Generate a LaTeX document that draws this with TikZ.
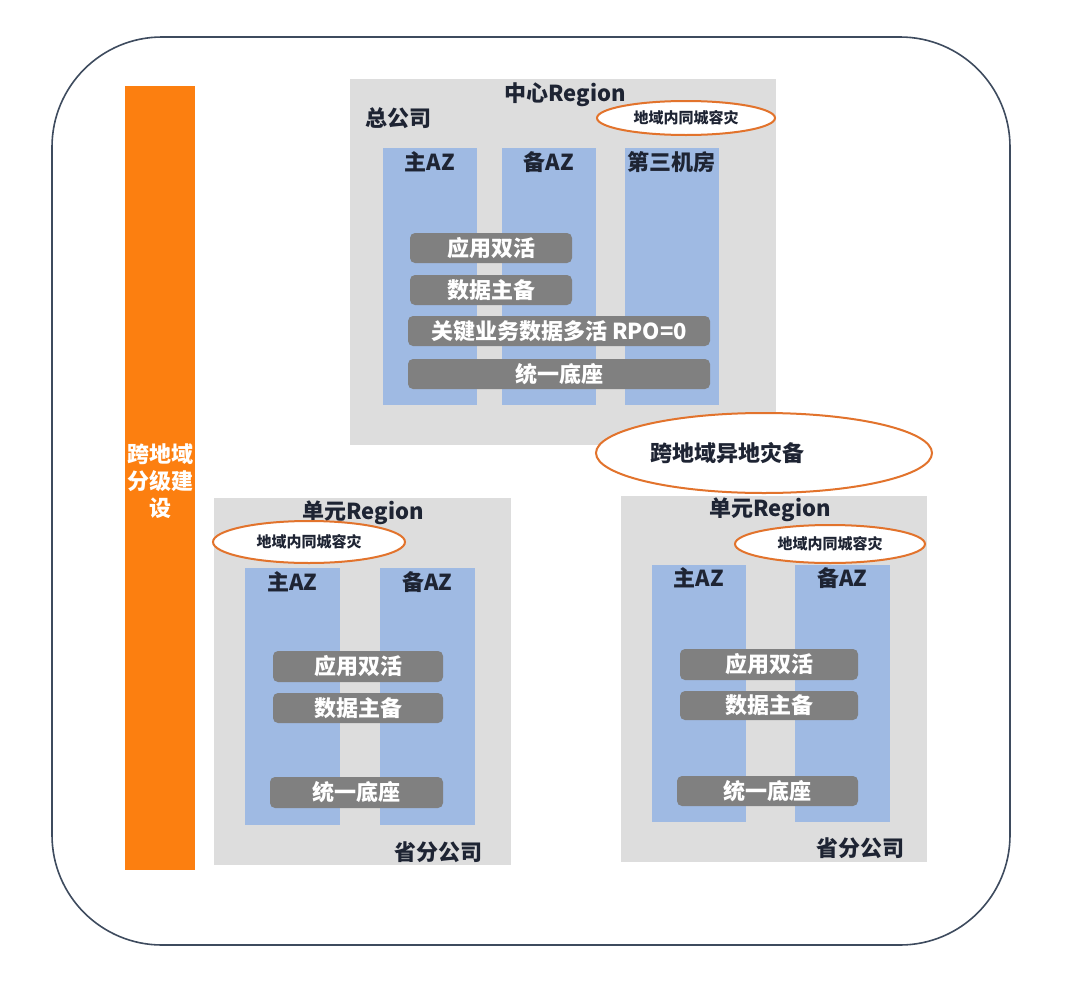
\documentclass[tikz,border=0pt]{standalone}
\usepackage{fontspec}
\setmainfont{Noto Sans CJK SC}
\usetikzlibrary{shapes.geometric}
\definecolor{frame}{HTML}{3E4B5E}
\definecolor{reg}{HTML}{DDDDDD}
\definecolor{az}{HTML}{9FBAE3}
\definecolor{bar}{HTML}{808080}
\definecolor{orng}{HTML}{FC7F10}
\definecolor{ring}{HTML}{E2732C}
\definecolor{ink}{HTML}{1E2433}

\begin{document}
\begin{tikzpicture}[x=1pt, y=-1pt,
		region/.style={fill=reg, draw=none, inner sep=0pt},
		azcol/.style={fill=az, draw=none, minimum width=94, minimum height=257, inner sep=0pt},
		azlabel/.style={font=\fontsize{22}{24}\selectfont\bfseries, text=ink},
		bar/.style={fill=bar, rounded corners=5pt, text=white, font=\fontsize{22}{24}\selectfont\bfseries, inner sep=0pt},
		tag/.style={ellipse, draw=ring, line width=2pt, fill=white, inner sep=0pt},
		title/.style={font=\fontsize{22}{24}\selectfont\bfseries, text=ink}]

			\useasboundingbox (0,0) rectangle (1080,983);
			\fill[white] (0,0) rectangle (1080,983);

			\draw[frame, line width=1.6pt, rounded corners=110pt] (52,37) rectangle (1010,945);

			% left banner
			\node[fill=orng, minimum width=70, minimum height=784, inner sep=0pt] (banner) at (160,478) {};
			\node[text=white, align=center, font=\fontsize{22}{27}\selectfont\bfseries] (bannertxt) at (160,481) {跨地域\\分级建\\设};

			% central region
			\node[region, minimum width=426, minimum height=366] (central) at (563,262) {};
			\node[title] (centralname) at (565,95) {中心Region};
			\node[title] (hq) at (398,118) {总公司};
			\node[tag, minimum width=178, minimum height=34] (centraltag) at (686,118) {};
			\node[font=\fontsize{15}{16}\selectfont\bfseries, text=ink] at (centraltag) {地域内同城容灾};

			\node[azcol] (caz1) at (430,276.5) {};
			\node[azcol] (caz2) at (549,276.5) {};
			\node[azcol] (caz3) at (671.5,276.5) {};
			\node[azlabel] at (430,162) {主AZ};
			\node[azlabel] at (549,162) {备AZ};
			\node[azlabel] at (671.5,162) {第三机房};

			\node[bar, minimum width=162, minimum height=30] (capp) at (491,248) {应用双活};
			\node[bar, minimum width=162, minimum height=30] (cdata) at (491,290) {数据主备};
			\node[bar, minimum width=302, minimum height=30] (ckey) at (559,331) {关键业务数据多活 RPO=0};
			\node[bar, minimum width=302, minimum height=30] (cbase) at (559,374) {统一底座};

			% cross-region disaster recovery
			\node[tag, minimum width=336, minimum height=80] (cross) at (764,453) {};
			\node[title] (crosstxt) at (727,453) {跨地域异地灾备};

			% left unit region
			\node[region, minimum width=297, minimum height=367] (leftunit) at (362.5,681.5) {};
			\node[title] (leftname) at (363,513) {单元Region};
			\node[tag, minimum width=192, minimum height=42] (lefttag) at (309,542) {};
			\node[font=\fontsize{15}{16}\selectfont\bfseries, text=ink] at (lefttag) {地域内同城容灾};

			\node[azcol, minimum width=95] (laz1) at (292.5,696.5) {};
			\node[azcol, minimum width=95] (laz2) at (427.5,696.5) {};
			\node[azlabel] at (292.5,582) {主AZ};
			\node[azlabel] at (427.5,582) {备AZ};

			\node[bar, minimum width=170, minimum height=31] (lapp) at (358,666.5) {应用双活};
			\node[bar, minimum width=170, minimum height=30] (ldata) at (358,708) {数据主备};
			\node[bar, minimum width=173, minimum height=31] (lbase) at (356.5,792.5) {统一底座};
			\node[title] (leftbranch) at (438,852) {省分公司};

			% right unit region
			\node[region, minimum width=306, minimum height=366] (rightunit) at (774,679) {};
			\node[title] (rightname) at (770,510) {单元Region};
			\node[tag, minimum width=190, minimum height=38] (righttag) at (830,544) {};
			\node[font=\fontsize{15}{16}\selectfont\bfseries, text=ink] at (righttag) {地域内同城容灾};

			\node[azcol] (raz1) at (699,693.5) {};
			\node[azcol, minimum width=95] (raz2) at (842.5,693.5) {};
			\node[azlabel] at (699,578) {主AZ};
			\node[azlabel] at (842.5,578) {备AZ};

			\node[bar, minimum width=178, minimum height=31] (rapp) at (769,664.5) {应用双活};
			\node[bar, minimum width=178, minimum height=29] (rdata) at (769,705.5) {数据主备};
			\node[bar, minimum width=181, minimum height=30] (rbase) at (767.5,791) {统一底座};
			\node[title] (rightbranch) at (860,848) {省分公司};

		\end{tikzpicture}
\end{document}
